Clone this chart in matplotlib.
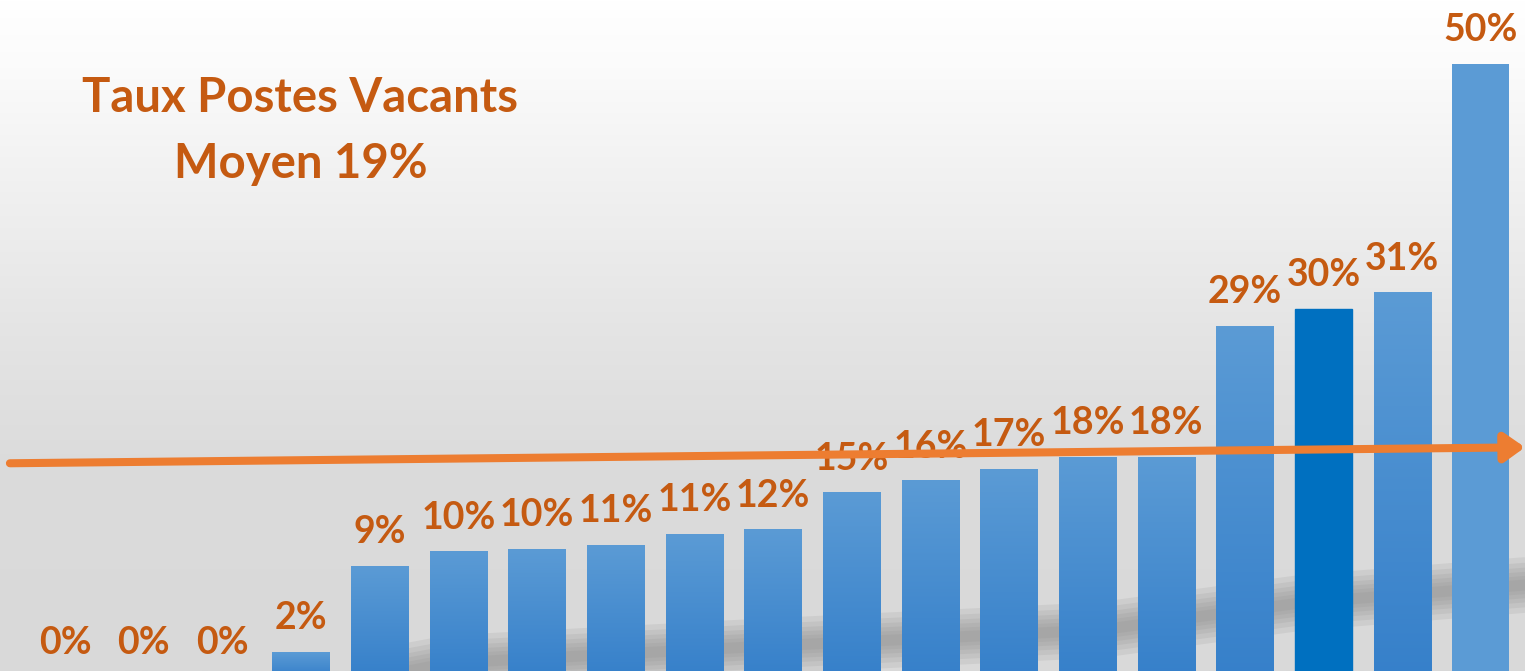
import numpy as np
import matplotlib
matplotlib.use("Agg")
import matplotlib.pyplot as plt
from matplotlib.colors import LinearSegmentedColormap

# values (% postes vacants, sorted)
values = [0, 0, 0, 2, 9.0, 10.2, 10.4, 10.7, 11.6, 12.0,
          15.0, 16.0, 16.9, 17.9, 17.9, 28.6, 30.0, 31.3, 50.0]
labels = ["0%", "0%", "0%", "2%", "9%", "10%", "10%", "11%", "11%", "12%",
          "15%", "16%", "17%", "18%", "18%", "29%", "30%", "31%", "50%"]
highlight = 16          # the dark blue bar
flat = 18               # the bar drawn with no gradient
title_1 = "Taux Postes Vacants"
title_2 = "Moyen 19%"
# orange trend arrow (value at start, value at end)
arrow_start = 17.4
arrow_end = 18.7

ORANGE_TXT = "#C55A11"
ORANGE_LINE = "#ED7D31"
BLUE_TOP = "#5B9BD5"
BLUE_BOT = "#3680CA"
BLUE_DARK = "#0070C0"

fig = plt.figure(figsize=(15.25, 6.71), dpi=100)
ax = fig.add_axes([0, 0, 1, 1])

x = np.arange(len(values))
xmin, xmax = -0.826, 18.56
ymin, ymax = 0.45, 55.2
ax.set_xlim(xmin, xmax)
ax.set_ylim(ymin, ymax)
ax.axis("off")

# background gradient white -> light grey
stops = [(0.0, "#D9D9D9"), (0.3, "#DBDBDB"), (0.5, "#E4E4E4"),
         (0.75, "#F2F2F2"), (0.9, "#FBFBFB"), (1.0, "#FFFFFF")]
bg_cmap = LinearSegmentedColormap.from_list("bg", stops)
grad = np.linspace(0, 1, 256).reshape(-1, 1)
ax.imshow(grad, cmap=bg_cmap, origin="lower", aspect="auto",
          extent=(xmin, xmax, ymin, ymax), zorder=0)

# soft grey reflection behind the bars
shadow_px = np.array([(360, 680), (450, 663), (750, 647), (1100, 630),
                      (1300, 603), (1525, 585)])
sx = shadow_px[:, 0] / 1525
sy = 1 - shadow_px[:, 1] / 671
for lw in [40, 32, 25, 19, 13, 8]:
    ax.plot(sx, sy, color="#8A8A8A", lw=lw, alpha=0.15,
            solid_capstyle="round", transform=ax.transAxes, zorder=1)

width = 0.725
bars = ax.bar(x, values, width=width, color=BLUE_TOP, zorder=2)

bar_cmap = LinearSegmentedColormap.from_list("bar", [BLUE_BOT, BLUE_TOP])
for i, b in enumerate(bars):
    if i == highlight:
        b.set_color(BLUE_DARK)
        continue
    if i == flat or values[i] <= 0:
        continue
    ax.imshow(grad, cmap=bar_cmap, origin="lower", aspect="auto",
              extent=(b.get_x(), b.get_x() + b.get_width(), 0, b.get_height()),
              zorder=3)

for xi, v, lab in zip(x, values, labels):
    ax.annotate(lab, (xi, v), xytext=(0, 16.5), textcoords="offset points",
                ha="center", va="baseline", fontsize=27, fontweight="bold",
                family="Lato", color=ORANGE_TXT, zorder=4,
                annotation_clip=False)

ax.annotate("", xy=(xmax, arrow_end), xytext=(-0.70, arrow_start),
            arrowprops=dict(arrowstyle="-|>,head_length=12,head_width=8.5",
                            mutation_scale=1, lw=5.8, color=ORANGE_LINE,
                            shrinkA=0, shrinkB=0),
            annotation_clip=False, zorder=5)

ax.text(0.197, 0.833, title_1, transform=ax.transAxes, ha="center",
        va="baseline", fontsize=34, fontweight="bold", family="Lato",
        color=ORANGE_TXT, zorder=6)
ax.text(0.197, 0.735, title_2, transform=ax.transAxes, ha="center",
        va="baseline", fontsize=34, fontweight="bold", family="Lato",
        color=ORANGE_TXT, zorder=6)

fig.savefig("out.png", dpi=100)
